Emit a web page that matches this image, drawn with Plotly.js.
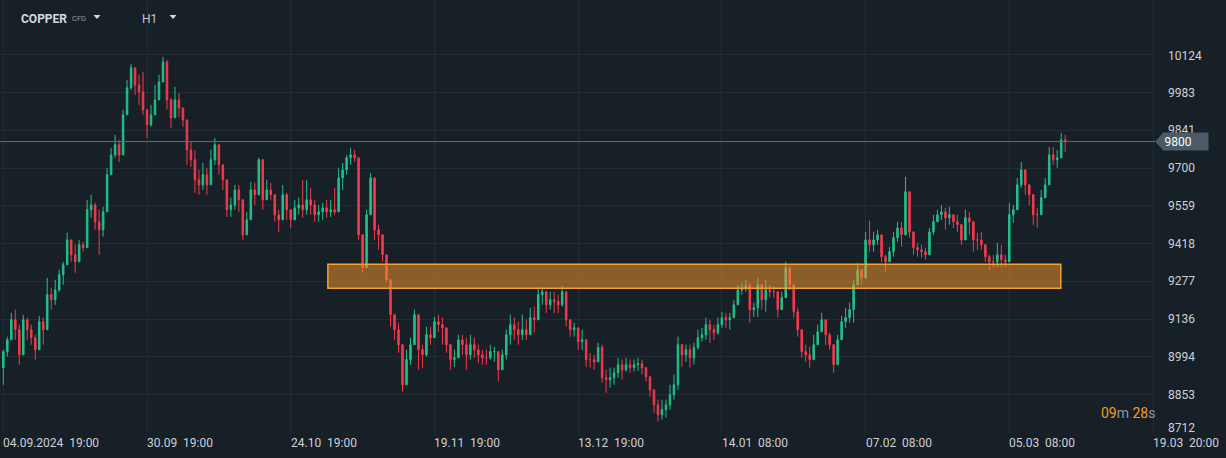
<!DOCTYPE html>
<html>
<head>
<meta charset="utf-8">
<script src="https://cdn.plot.ly/plotly-3.0.1.min.js"></script>
<style>
  html, body { margin: 0; padding: 0; background: #171f27; }
  #chart { width: 1226px; height: 458px; }
</style>
</head>
<body>
<div id="chart"></div>
<script>
// ---- data (H1 bars, one bar per ~4 px) ----
const firstOpen = 8954;
const close = [
9014,9058,9133,9096,9002,9133,9096,9066,9021,9126,
9096,9227,9208,9245,9302,9339,9432,9376,9350,9414,
9403,9545,9563,9500,9470,9537,9676,9750,9788,9750,
9900,10001,10076,10012,9986,9919,9863,9900,9956,10023,
10098,9956,9889,9956,9926,9881,9769,9732,9657,9638,
9676,9638,9732,9788,9713,9657,9545,9563,9619,9582,
9451,9507,9619,9601,9732,9582,9619,9601,9526,9507,
9601,9545,9507,9552,9563,9545,9582,9563,9526,9537,
9552,9537,9545,9537,9664,9694,9739,9750,9739,9451,
9328,9526,9664,9470,9451,9376,9283,9152,9096,9040,
8890,8984,9040,9152,9021,9002,9077,9066,9126,9115,
9103,9040,8984,8991,9058,9040,9002,9040,9021,9002,
8991,8991,9014,9014,8946,9002,9077,9115,9096,9077,
9096,9077,9141,9133,9227,9238,9189,9208,9201,9189,
9238,9133,9096,9103,9051,9058,8984,8984,8976,9029,
8916,8909,8916,8935,8965,8946,8965,8954,8965,8969,
8954,8920,8871,8815,8778,8797,8815,8853,8890,9040,
9002,9021,8991,9029,9066,9077,9115,9096,9085,9115,
9141,9133,9141,9189,9245,9253,9260,9171,9178,9264,
9208,9245,9238,9238,9171,9216,9328,9264,9163,9096,
9014,9002,8984,9040,9088,9133,9077,9040,8965,9058,
9126,9141,9171,9264,9320,9290,9432,9414,9432,9451,
9369,9350,9388,9440,9477,9451,9612,9462,9403,9395,
9388,9376,9462,9500,9526,9537,9515,9526,9500,9489,
9432,9515,9500,9432,9432,9414,9369,9350,9350,9376,
9358,9350,9526,9545,9638,9694,9638,9601,9526,9526,
9590,9638,9750,9732,9739,9806,9800
];
const high = [
9021,9070,9159,9171,9115,9152,9141,9115,9077,9148,
9141,9290,9253,9283,9320,9350,9459,9432,9414,9432,
9425,9582,9601,9571,9545,9556,9702,9777,9825,9806,
9919,10031,10091,10061,10050,10061,9907,9937,10012,10050,
10117,10106,9963,10005,9982,9919,9806,9799,9769,9694,
9720,9702,9769,9814,9769,9713,9593,9590,9638,9638,
9526,9537,9649,9646,9739,9713,9657,9646,9582,9545,
9638,9608,9545,9582,9590,9657,9657,9627,9582,9563,
9571,9582,9582,9627,9702,9720,9750,9777,9769,9608,
9414,9545,9683,9612,9489,9444,9350,9208,9144,9122,
8984,9021,9066,9171,9077,9040,9107,9107,9144,9152,
9141,9096,9014,9021,9077,9077,9066,9077,9066,9040,
9021,9021,9040,9032,9002,9021,9096,9152,9141,9126,
9152,9133,9178,9182,9253,9253,9227,9238,9238,9227,
9260,9208,9122,9122,9077,9096,9047,9010,9002,9047,
9040,8946,8954,8954,8991,8984,8991,8984,8984,8991,
8984,8954,8916,8871,8834,8834,8834,8890,8928,9070,
9040,9040,9040,9047,9096,9103,9141,9133,9115,9141,
9163,9159,9159,9208,9264,9272,9283,9272,9197,9290,
9264,9283,9264,9257,9208,9238,9350,9313,9182,9178,
9040,9040,9032,9077,9115,9159,9103,9085,9021,9077,
9148,9178,9197,9283,9346,9313,9462,9504,9462,9470,
9414,9376,9406,9462,9500,9500,9668,9563,9432,9421,
9414,9403,9477,9526,9545,9563,9552,9556,9526,9526,
9489,9545,9537,9470,9459,9462,9406,9376,9376,9421,
9414,9376,9571,9563,9664,9724,9676,9638,9563,9552,
9619,9664,9780,9780,9769,9833,9825
];
const low = [
8890,8995,9070,9058,8965,9021,9058,9040,8984,9040,
9040,9182,9171,9189,9238,9264,9339,9350,9309,9388,
9388,9470,9515,9470,9376,9444,9638,9702,9739,9724,
9825,9919,9993,9975,9937,9900,9814,9855,9907,9975,
10031,9919,9851,9907,9892,9855,9713,9705,9608,9601,
9619,9601,9676,9713,9676,9619,9518,9518,9545,9537,
9432,9462,9582,9563,9657,9545,9582,9582,9500,9462,
9545,9507,9477,9515,9526,9515,9526,9526,9500,9500,
9507,9515,9518,9526,9612,9619,9676,9713,9724,9432,
9309,9459,9537,9432,9395,9350,9272,9107,9058,9010,
8864,8890,8965,9058,8946,8954,8995,9040,9077,9088,
9040,9010,8946,8957,9014,9002,8946,8984,8991,8972,
8965,8965,8984,8976,8901,8965,8984,9040,9058,9040,
9058,9058,9096,9085,9171,9189,9159,9171,9159,9159,
9182,9107,9070,9070,9021,9021,8957,8954,8946,8995,
8898,8860,8879,8890,8916,8909,8939,8935,8939,8942,
8928,8901,8845,8785,8752,8759,8767,8797,8834,8871,
8957,8976,8954,8965,9021,9051,9058,9047,9058,9077,
9103,9103,9096,9152,9208,9227,9238,9122,9144,9144,
9171,9163,9216,9216,9141,9171,9302,9245,9141,9070,
8991,8976,8954,8984,9040,9088,9040,9021,8935,8984,
9058,9103,9122,9122,9275,9264,9376,9388,9388,9414,
9350,9313,9365,9369,9425,9406,9563,9440,9376,9369,
9365,9358,9414,9451,9500,9507,9470,9489,9477,9462,
9414,9470,9451,9388,9395,9395,9350,9320,9328,9331,
9328,9328,9440,9496,9582,9627,9601,9563,9489,9477,
9545,9593,9702,9713,9702,9762,9762
];
// x-axis labels, one every 36 bars
const xLabels = ['04.09.2024 19:00','30.09 19:00','24.10 19:00','19.11 19:00','13.12 19:00','14.01 08:00','07.02 08:00','05.03 08:00','19.03 20:00'];
const labelStep = 36;
// price axis ticks
const yTickVals = [8712, 8853.2, 8994.4, 9135.6, 9276.8, 9418, 9559.2, 9700.4, 9841.6, 9982.8, 10124];
const yTickText = ['8712','8853','8994','9136','9277','9418','9559','9700','9841','9983','10124'];
// support/resistance zone
const zonePrice = [9251, 9341];
const zoneBars = [81.3, 264.9];
const lastPrice = 9800;

// ---- build ----
const x = close.map((_, i) => i);
const open = close.map((c, i) => i === 0 ? firstOpen : close[i - 1]);
const hi = high.map((h, i) => Math.max(h, open[i], close[i]));
const lo = low.map((l, i) => Math.min(l, open[i], close[i]));

const BG = '#171f27';
const GRID = '#232c35';
const TXT = '#cdd1d5';
const PLOT_W = 1155, PLOT_H = 433;

const trace = {
  type: 'candlestick',
  x: x, open: open, high: hi, low: lo, close: close,
  increasing: { line: { color: '#22c08a', width: 1 }, fillcolor: '#22c08a' },
  decreasing: { line: { color: '#f33a4d', width: 1 }, fillcolor: '#f33a4d' },
  whiskerwidth: 0,
  hoverinfo: 'none',
  showlegend: false
};

const xTickVals = xLabels.map((_, k) => k * labelStep);
const annotations = xLabels.map((t, k) => ({
  xref: 'x', yref: 'paper', x: k * labelStep, y: 0,
  xanchor: 'left', yanchor: 'top', yshift: -1, xshift: -2,
  text: t.replace(' ', '\u00a0\u00a0'), showarrow: false,
  font: { family: 'Roboto, sans-serif', size: 12, color: TXT }
}));

// price labels drawn as text beside the axis (bottom one lifted to stay above the date row)
const px = v => v / PLOT_W;
const py = v => 1 - v / PLOT_H;
yTickVals.forEach((v, k) => {
  const a = { xref: 'paper', yref: 'y', x: px(1166), y: v, xanchor: 'left', yanchor: 'middle',
    text: yTickText[k], showarrow: false,
    font: { family: 'Roboto, sans-serif', size: 12, color: TXT } };
  if (k === 0) a.yshift = 4;
  if (k === yTickVals.length - 1) a.yshift = -1.5;
  annotations.push(a);
});

annotations.push(
  { xref: 'paper', yref: 'paper', x: px(19), y: py(19.5), xanchor: 'left', yanchor: 'middle',
    text: '<b>COPPER</b>', showarrow: false,
    font: { family: 'Roboto, sans-serif', size: 12, color: '#d6dade' } },
  { xref: 'paper', yref: 'paper', x: px(70), y: py(18.5), xanchor: 'left', yanchor: 'middle',
    text: 'CFD', showarrow: false,
    font: { family: 'Roboto, sans-serif', size: 7.5, color: '#8e99a3' } },
  { xref: 'paper', yref: 'paper', x: px(140), y: py(19.5), xanchor: 'left', yanchor: 'middle',
    text: 'H1', showarrow: false,
    font: { family: 'Roboto, sans-serif', size: 12, color: '#c3c8cd' } },
  { xref: 'paper', yref: 'paper', x: px(1099), y: py(413), xanchor: 'left', yanchor: 'middle',
    text: '<span style="color:#f39c1f">09</span>m <span style="color:#f39c1f">28</span>s', showarrow: false,
    font: { family: 'Roboto, sans-serif', size: 14, color: '#8f989f' } }
);

const tri = (cx, cy) => `M ${px(cx-3.5)} ${py(cy-2)} L ${px(cx+3.5)} ${py(cy-2)} L ${px(cx)} ${py(cy+2)} Z`;
const yPerPx = (10329.8 - 8709.4) / PLOT_H;
const shapes = [
  { type: 'line', xref: 'paper', yref: 'y', x0: 0, x1: 1, y0: lastPrice, y1: lastPrice,
    line: { color: '#5e6c77', width: 1 }, layer: 'above' },
  { type: 'rect', xref: 'x', yref: 'y', x0: zoneBars[0], x1: zoneBars[1], y0: zonePrice[0], y1: zonePrice[1],
    fillcolor: 'rgba(245,152,45,0.52)', line: { color: '#f7a033', width: 1.5 }, layer: 'above' },
  { type: 'path', xref: 'paper', yref: 'paper', layer: 'above',
    path: tri(97, 17), fillcolor: '#d6dade', line: { width: 0 } },
  { type: 'path', xref: 'paper', yref: 'paper', layer: 'above',
    path: tri(173, 17), fillcolor: '#d6dade', line: { width: 0 } }
];

const layout = {
  width: 1226, height: 458,
  margin: { l: 0, r: 71, t: 0, b: 25, pad: 0 },
  paper_bgcolor: BG, plot_bgcolor: BG,
  boxgap: 0.45,
  font: { family: 'Roboto, sans-serif', color: TXT, size: 12 },
  showlegend: false,
  hovermode: false,
  dragmode: false,
  xaxis: {
    type: 'linear', range: [-0.83, 288.5],
    tickmode: 'array', tickvals: xTickVals, showticklabels: false, ticks: '',
    showgrid: true, gridcolor: GRID, gridwidth: 1,
    zeroline: false, showline: false,
    rangeslider: { visible: false }, fixedrange: true
  },
  yaxis: {
    side: 'right', range: [8709.4, 10329.8],
    tickmode: 'array', tickvals: yTickVals, showticklabels: false,
    ticks: '',
    showgrid: true, gridcolor: GRID, gridwidth: 1,
    zeroline: false, showline: false, fixedrange: true
  },
  shapes: shapes,
  annotations: annotations
};

Plotly.newPlot('chart', [trace], layout, { displayModeBar: false, staticPlot: true }).then(() => {
  // current-price marker drawn last so it sits over the price labels, as in the reference
  const box = {
    xref: 'paper', yref: 'y', x: px(1162), y: lastPrice, xanchor: 'left', yanchor: 'middle',
    text: String(lastPrice) + '\u00a0\u00a0\u00a0\u00a0\u00a0', showarrow: false,
    bgcolor: '#4b5a66', borderpad: 1.5, align: 'left',
    font: { family: 'Roboto, sans-serif', size: 12, color: '#ffffff' }
  };
  const tip = { type: 'path', xref: 'paper', yref: 'y', layer: 'above',
    path: `M ${px(1155)} ${lastPrice} L ${px(1163)} ${lastPrice + 8.5*yPerPx} L ${px(1163)} ${lastPrice - 8.5*yPerPx} Z`,
    fillcolor: '#4b5a66', line: { width: 0 } };
  Plotly.relayout('chart', {
    annotations: annotations.concat([box]),
    shapes: shapes.concat([tip])
  });
});
</script>
</body>
</html>
